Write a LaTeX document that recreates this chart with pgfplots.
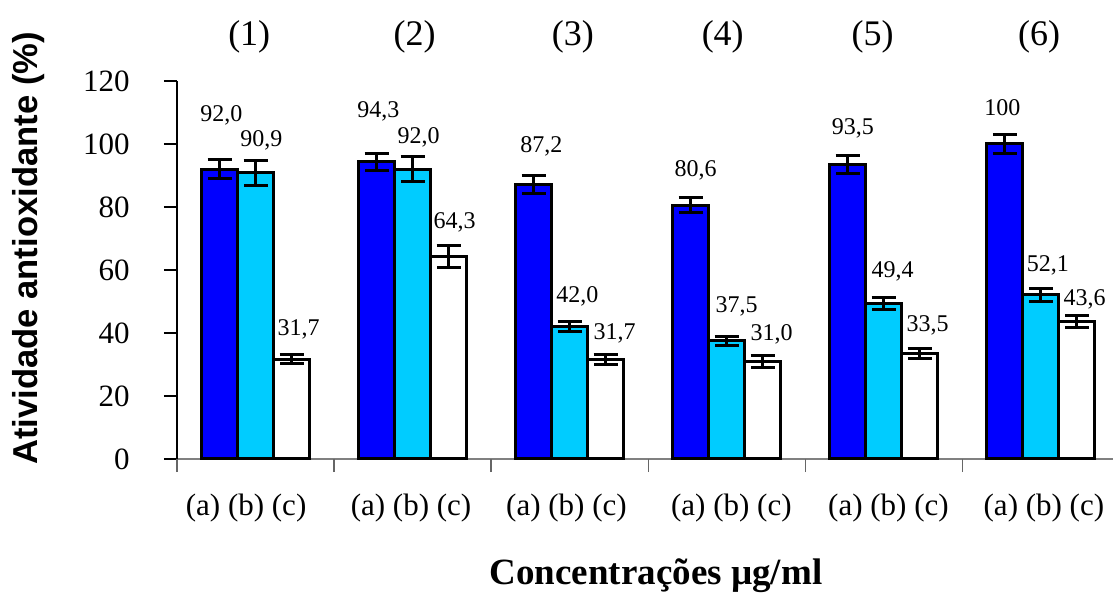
\documentclass[border=0pt]{standalone}
\usepackage{pgfplots}
\pgfplotsset{compat=1.18}
\usepackage{pgfplotstable}
\usepackage{fontspec}
\setmainfont{Liberation Serif}
\newfontfamily\arialfont{Liberation Sans}
\definecolor{barA}{RGB}{0,0,255}
\definecolor{barB}{RGB}{0,204,255}

\pgfplotstableread{
x y err
-0.2292 92.0 3.0
0.7708 94.3 2.6
1.7708 87.2 2.9
2.7708 80.6 2.4
3.7708 93.5 3.0
4.7708 100 3.0
}\seriesA
\pgfplotstableread{
x y err
0 90.9 4.0
1 92.0 4.0
2 42.0 1.5
3 37.5 1.5
4 49.4 2.0
5 52.1 2.0
}\seriesB
\pgfplotstableread{
x y err
0.2292 31.7 1.5
1.2292 64.3 3.5
2.2292 31.7 1.6
3.2292 31.0 2.0
4.2292 33.5 1.5
5.2292 43.6 2.0
}\seriesC
\pgfplotstableread{
x y lab
-0.217 109.2 92,0
0.783 110.3 94,3
1.82 99.4 87,2
2.803 91.7 80,6
3.803 105.0 93,5
4.756 111.6 100
}\labA
\pgfplotstableread{
x y lab
0.038 101.0 90,9
1.038 102.0 92,0
2.049 51.5 42,0
3.064 48.3 37,5
4.057 59.5 49,4
5.045 61.4 52,1
}\labB
\pgfplotstableread{
x y lab
0.274 41.3 31,7
1.268 75.2 64,3
2.287 39.9 31,7
3.287 39.7 31,0
4.28 42.3 33,5
5.28 50.7 43,6
}\labC
\pgfplotstableread{
x y lab
-0.04 134 (1)
1.013 134 (2)
2.02 134 (3)
2.975 134 (4)
3.93 134 (5)
4.99 134 (6)
}\labTop

\begin{document}
\begin{tikzpicture}
\useasboundingbox (-88.5pt,-67pt) rectangle (468pt,229.5pt);
\begin{axis}[
  at={(0pt,0pt)}, anchor=south west,
  scale only axis, width=468pt, height=189pt,
  xmin=-0.5, xmax=5.46, ymin=0, ymax=120,
  clip=false,
  axis lines=left, axis line style={-},
  x axis line style={draw=gray, line width=0.65pt},
  y axis line style={draw=black, line width=0.65pt},
  tick align=outside, major tick length=6.5pt,
  ytick={0,20,...,120},
  ytick style={black, line width=0.6pt},
  /pgf/number format/assume math mode=true,
  yticklabel style={font=\fontsize{15.5}{18}\selectfont, inner sep=0pt, xshift=-17pt},
  xtick={-0.06,0.99,1.98,3.03,4.03,5.02},
  xticklabels={(a) (b) (c),(a) (b) (c),(a) (b) (c),(a) (b) (c),(a) (b) (c),(a) (b) (c)},
  xtick style={draw=none},
  xticklabel style={font=\fontsize{15.5}{18}\selectfont, anchor=north, inner sep=0pt, yshift=-11pt},
  extra x ticks={-0.5,0.5,1.5,2.5,3.5,4.5},
  extra x tick labels={},
  extra x tick style={xtick style={draw=gray!80!black, line width=0.6pt}},
  xlabel={Concentrações µg/ml},
  xlabel style={font=\bfseries\fontsize{18.5}{21}\selectfont, at={(rel axis cs:0.5118,0)}, anchor=base, inner sep=0pt, yshift=-63pt},
  ylabel={Atividade antioxidante (\%)},
  ylabel style={font=\arialfont\bfseries\fontsize{17.3}{20}\selectfont, at={(rel axis cs:0,0.557)}, anchor=center, yshift=74pt},
  error bars/y dir=both, error bars/y explicit,
]
\addplot[ybar, bar width=18pt, bar shift=0pt, fill=barA, draw=black, line width=1.5pt,
  error bars/error bar style={line width=1.5pt, black},
  error bars/error mark options={rotate=90, mark size=6pt, line width=1.5pt, black}]
  table[x=x, y=y, y error=err] {\seriesA};
\addplot[ybar, bar width=18pt, bar shift=0pt, fill=barB, draw=black, line width=1.5pt,
  error bars/error bar style={line width=1.5pt, black},
  error bars/error mark options={rotate=90, mark size=6pt, line width=1.5pt, black}]
  table[x=x, y=y, y error=err] {\seriesB};
\addplot[ybar, bar width=18pt, bar shift=0pt, fill=white, draw=black, line width=1.5pt,
  error bars/error bar style={line width=1.5pt, black},
  error bars/error mark options={rotate=90, mark size=6pt, line width=1.5pt, black}]
  table[x=x, y=y, y error=err] {\seriesC};
\addplot[draw=none, mark=none, nodes near coords, point meta=explicit symbolic,
  nodes near coords style={anchor=center, font=\fontsize{12}{14}\selectfont, text=black, inner sep=0pt}]
  table[x=x, y=y, meta=lab] {\labA};
\addplot[draw=none, mark=none, nodes near coords, point meta=explicit symbolic,
  nodes near coords style={anchor=center, font=\fontsize{12}{14}\selectfont, text=black, inner sep=0pt}]
  table[x=x, y=y, meta=lab] {\labB};
\addplot[draw=none, mark=none, nodes near coords, point meta=explicit symbolic,
  nodes near coords style={anchor=center, font=\fontsize{12}{14}\selectfont, text=black, inner sep=0pt}]
  table[x=x, y=y, meta=lab] {\labC};
\addplot[draw=none, mark=none, nodes near coords, point meta=explicit symbolic,
  nodes near coords style={anchor=center, font=\fontsize{18}{21}\selectfont, text=black, inner sep=0pt}]
  table[x=x, y=y, meta=lab] {\labTop};
\end{axis}
\end{tikzpicture}
\end{document}
